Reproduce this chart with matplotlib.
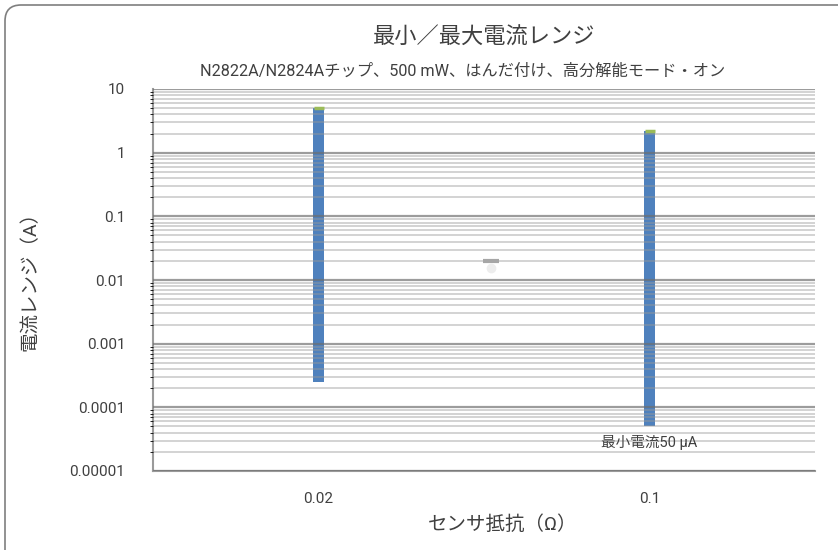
import matplotlib.pyplot as plt
import numpy as np
from matplotlib.patches import FancyBboxPatch
from matplotlib.ticker import FixedLocator, FuncFormatter, LogLocator, NullFormatter
from matplotlib.transforms import IdentityTransform

plt.rcParams["font.family"] = ["Roboto", "Noto Sans CJK JP", "DejaVu Sans"]

# Sense resistor values and the current range for each one (A).
resist_labels = ["0.02", "0.1"]
max_current = [5.0, 2.2]
min_current = [0.00025, 0.00005]

# Stray legend marker (and its faint shadow) in the middle of the plot.
stray_x = [0.52]
stray_y = [0.02]
shadow_y = [0.0155]

y_ticks = [0.00001, 0.0001, 0.001, 0.01, 0.1, 1, 10]

text_color = "#404040"
bar_color = "#4f81bd"
cap_color = "#9bbb59"

fig = plt.figure(figsize=(8.38, 5.5), dpi=100)
ax = fig.add_axes([153 / 838, 1 - 471 / 550, (815 - 153) / 838, (471 - 89) / 550])

x = np.arange(len(resist_labels))
lo = np.array(min_current)
hi = np.array(max_current)

ax.bar(x, hi - lo, bottom=lo, width=0.032, color=bar_color, zorder=1)
ax.plot(x, hi, linestyle="none", marker="_", ms=7, mew=2.5, color=cap_color, zorder=4)
ax.plot(stray_x, stray_y, linestyle="none", marker="_", ms=12, mew=3,
        color="#a6a6a6", zorder=4)
ax.plot(stray_x, shadow_y, linestyle="none", marker="o", ms=7, mew=0,
        color="#d8d8d8", alpha=0.45, zorder=1)

ax.set_yscale("log")
ax.set_ylim(y_ticks[0], y_ticks[-1])
ax.set_xlim(-0.5, len(resist_labels) - 0.5)
ax.yaxis.set_major_locator(FixedLocator(y_ticks))
ax.yaxis.set_major_formatter(FuncFormatter(lambda v, p: f"{v:g}" if v >= 1e-4 else f"{v:.5f}"))
ax.yaxis.set_minor_locator(LogLocator(base=10, subs=np.arange(2, 10)))
ax.yaxis.set_minor_formatter(NullFormatter())

# semi-transparent grid drawn over the bars, so it shows through them faintly
ax.grid(True, which="major", axis="y", color="#6e6e6e", lw=1.6, alpha=0.68, zorder=2)
ax.grid(True, which="minor", axis="y", color="#999999", lw=1.2, alpha=0.5, zorder=2)
ax.set_axisbelow(False)

ax.set_xticks(x)
ax.set_xticklabels(resist_labels)
ax.tick_params(axis="both", length=0, labelsize=11, labelcolor=text_color)
ax.tick_params(axis="x", pad=15)
ax.tick_params(axis="y", pad=20)

for side in ["top", "right"]:
    ax.spines[side].set_visible(False)
for side in ["left", "bottom"]:
    ax.spines[side].set_color("#9a9a9a")
    ax.spines[side].set_linewidth(1.5)

ax.annotate("最小電流50 μA", xy=(x[1], lo[1]), xytext=(0, -6),
            textcoords="offset points", ha="center", va="top",
            fontsize=10.5, color=text_color)

fig.text(484 / 838, 1 - 38 / 550, "最小／最大電流レンジ", ha="center", va="center",
         fontsize=16, color=text_color)
fig.text(463 / 838, 1 - 71 / 550,
         "N2822A/N2824Aチップ、500 mW、はんだ付け、高分解能モード・オン",
         ha="center", va="center", fontsize=11.7, color=text_color)
fig.text(503 / 838, 1 - 525 / 550, "センサ抵抗（Ω）", ha="center", va="center",
         fontsize=14, color=text_color)
fig.text(30 / 838, 1 - 276 / 550, "電流レンジ（A）", ha="center", va="center",
         rotation=90, fontsize=14, color=text_color)

# Rounded frame around the whole chart.
frame = FancyBboxPatch((5, -30), 900, 575, boxstyle="round,pad=0,rounding_size=16",
                       transform=IdentityTransform(), fill=False,
                       edgecolor="#7f7f7f", lw=1.2)
fig.patches.append(frame)

fig.savefig("out.png", dpi=100)
